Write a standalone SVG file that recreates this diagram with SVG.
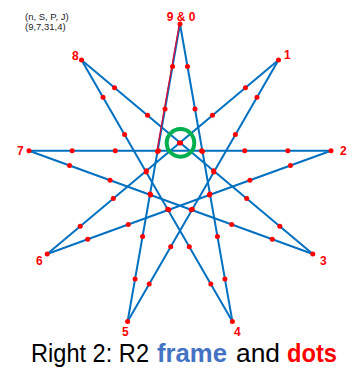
<svg xmlns="http://www.w3.org/2000/svg" width="355" height="372" viewBox="0 0 355 372">
<style>
.edge{stroke:#0070C0;stroke-width:2;fill:none;stroke-linecap:round}
.hl{stroke:#D0103A;stroke-width:1.4;fill:none}
.dot{fill:#FF0000}
.lbl{font-family:"Liberation Sans",Arial,sans-serif;font-weight:bold;font-size:12px;fill:#FF0000}
.param{font-family:"Liberation Sans",Arial,sans-serif;font-size:9.5px;fill:#222}
.cap{font-family:"Liberation Sans",Arial,sans-serif;font-size:25px}
</style>
<rect width="355" height="372" fill="#fff"/>
<g id="connectors">
<line class="edge" x1="180" y1="24" x2="232.4" y2="321.4"/>
<line class="edge" x1="232.4" y1="321.4" x2="81.5" y2="59.9"/>
<line class="edge" x1="81.5" y1="59.9" x2="312.8" y2="254"/>
<line class="edge" x1="312.8" y1="254" x2="29" y2="150.7"/>
<line class="edge" x1="29" y1="150.7" x2="331" y2="150.7"/>
<line class="edge" x1="331" y1="150.7" x2="47.2" y2="254"/>
<line class="edge" x1="47.2" y1="254" x2="278.5" y2="59.9"/>
<line class="edge" x1="278.5" y1="59.9" x2="127.6" y2="321.4"/>
<line class="edge" x1="127.6" y1="321.4" x2="180" y2="24"/>
<line class="hl" x1="179.4" y1="24" x2="156.9" y2="151.46"/>
</g>
<g id="dots">
<circle class="dot" cx="180" cy="24" r="2.5"/>
<circle class="dot" cx="278.5" cy="59.9" r="2.5"/>
<circle class="dot" cx="331" cy="150.7" r="2.5"/>
<circle class="dot" cx="312.8" cy="254" r="2.5"/>
<circle class="dot" cx="232.4" cy="321.4" r="2.5"/>
<circle class="dot" cx="127.6" cy="321.4" r="2.5"/>
<circle class="dot" cx="47.2" cy="254" r="2.5"/>
<circle class="dot" cx="29" cy="150.7" r="2.5"/>
<circle class="dot" cx="81.5" cy="59.9" r="2.5"/>
<circle class="dot" cx="187.49" cy="66.49" r="2.5"/>
<circle class="dot" cx="194.97" cy="108.97" r="2.5"/>
<circle class="dot" cx="202.46" cy="151.46" r="2.5"/>
<circle class="dot" cx="209.94" cy="193.94" r="2.5"/>
<circle class="dot" cx="217.43" cy="236.43" r="2.5"/>
<circle class="dot" cx="224.91" cy="278.91" r="2.5"/>
<circle class="dot" cx="210.84" cy="284.04" r="2.5"/>
<circle class="dot" cx="189.29" cy="246.69" r="2.5"/>
<circle class="dot" cx="167.73" cy="209.33" r="2.5"/>
<circle class="dot" cx="146.17" cy="171.97" r="2.5"/>
<circle class="dot" cx="124.61" cy="134.61" r="2.5"/>
<circle class="dot" cx="103.06" cy="97.26" r="2.5"/>
<circle class="dot" cx="114.54" cy="87.63" r="2.5"/>
<circle class="dot" cx="147.59" cy="115.36" r="2.5"/>
<circle class="dot" cx="180.63" cy="143.09" r="2.5"/>
<circle class="dot" cx="213.67" cy="170.81" r="2.5"/>
<circle class="dot" cx="246.71" cy="198.54" r="2.5"/>
<circle class="dot" cx="279.76" cy="226.27" r="2.5"/>
<circle class="dot" cx="272.26" cy="239.24" r="2.5"/>
<circle class="dot" cx="231.71" cy="224.49" r="2.5"/>
<circle class="dot" cx="191.17" cy="209.73" r="2.5"/>
<circle class="dot" cx="150.63" cy="194.97" r="2.5"/>
<circle class="dot" cx="110.09" cy="180.21" r="2.5"/>
<circle class="dot" cx="69.54" cy="165.46" r="2.5"/>
<circle class="dot" cx="72.14" cy="150.7" r="2.5"/>
<circle class="dot" cx="115.29" cy="150.7" r="2.5"/>
<circle class="dot" cx="158.43" cy="150.7" r="2.5"/>
<circle class="dot" cx="201.57" cy="150.7" r="2.5"/>
<circle class="dot" cx="244.71" cy="150.7" r="2.5"/>
<circle class="dot" cx="287.86" cy="150.7" r="2.5"/>
<circle class="dot" cx="290.46" cy="165.46" r="2.5"/>
<circle class="dot" cx="249.91" cy="180.21" r="2.5"/>
<circle class="dot" cx="209.37" cy="194.97" r="2.5"/>
<circle class="dot" cx="168.83" cy="209.73" r="2.5"/>
<circle class="dot" cx="128.29" cy="224.49" r="2.5"/>
<circle class="dot" cx="87.74" cy="239.24" r="2.5"/>
<circle class="dot" cx="80.24" cy="226.27" r="2.5"/>
<circle class="dot" cx="113.29" cy="198.54" r="2.5"/>
<circle class="dot" cx="146.33" cy="170.81" r="2.5"/>
<circle class="dot" cx="179.37" cy="143.09" r="2.5"/>
<circle class="dot" cx="212.41" cy="115.36" r="2.5"/>
<circle class="dot" cx="245.46" cy="87.63" r="2.5"/>
<circle class="dot" cx="256.94" cy="97.26" r="2.5"/>
<circle class="dot" cx="235.39" cy="134.61" r="2.5"/>
<circle class="dot" cx="213.83" cy="171.97" r="2.5"/>
<circle class="dot" cx="192.27" cy="209.33" r="2.5"/>
<circle class="dot" cx="170.71" cy="246.69" r="2.5"/>
<circle class="dot" cx="149.16" cy="284.04" r="2.5"/>
<circle class="dot" cx="135.09" cy="278.91" r="2.5"/>
<circle class="dot" cx="142.57" cy="236.43" r="2.5"/>
<circle class="dot" cx="150.06" cy="193.94" r="2.5"/>
<circle class="dot" cx="157.54" cy="151.46" r="2.5"/>
<circle class="dot" cx="165.03" cy="108.97" r="2.5"/>
<circle class="dot" cx="172.51" cy="66.49" r="2.5"/>
</g>
<g id="highlight">
<circle cx="180.5" cy="142.9" r="13.8" fill="none" stroke="#00B050" stroke-width="4"/>
</g>
<g id="node-0"><text class="lbl" x="181" y="21" text-anchor="middle">9 &amp; 0</text></g>
<g id="node-1"><text class="lbl" x="284" y="59">1</text></g>
<g id="node-2"><text class="lbl" x="340" y="155">2</text></g>
<g id="node-3"><text class="lbl" x="320" y="265">3</text></g>
<g id="node-4"><text class="lbl" x="234" y="336">4</text></g>
<g id="node-5"><text class="lbl" x="122" y="336">5</text></g>
<g id="node-6"><text class="lbl" x="36" y="265">6</text></g>
<g id="node-7"><text class="lbl" x="17" y="155">7</text></g>
<g id="node-8"><text class="lbl" x="72" y="60">8</text></g>
<g id="params">
<text class="param" x="25" y="19.5">(n, S, P, J)</text>
<text class="param" x="25" y="29.5">(9,7,31,4)</text>
</g>
<g id="caption">
<text class="cap" x="31" y="362" fill="#000" textLength="118" lengthAdjust="spacingAndGlyphs">Right 2: R2</text>
<text class="cap" x="157" y="362" font-weight="bold" fill="#4472C4" textLength="70" lengthAdjust="spacingAndGlyphs">frame</text>
<text class="cap" x="236" y="362" fill="#000" textLength="44" lengthAdjust="spacingAndGlyphs">and</text>
<text class="cap" x="287" y="362" font-weight="bold" fill="#FF0000" textLength="50" lengthAdjust="spacingAndGlyphs">dots</text>
</g>
</svg>
